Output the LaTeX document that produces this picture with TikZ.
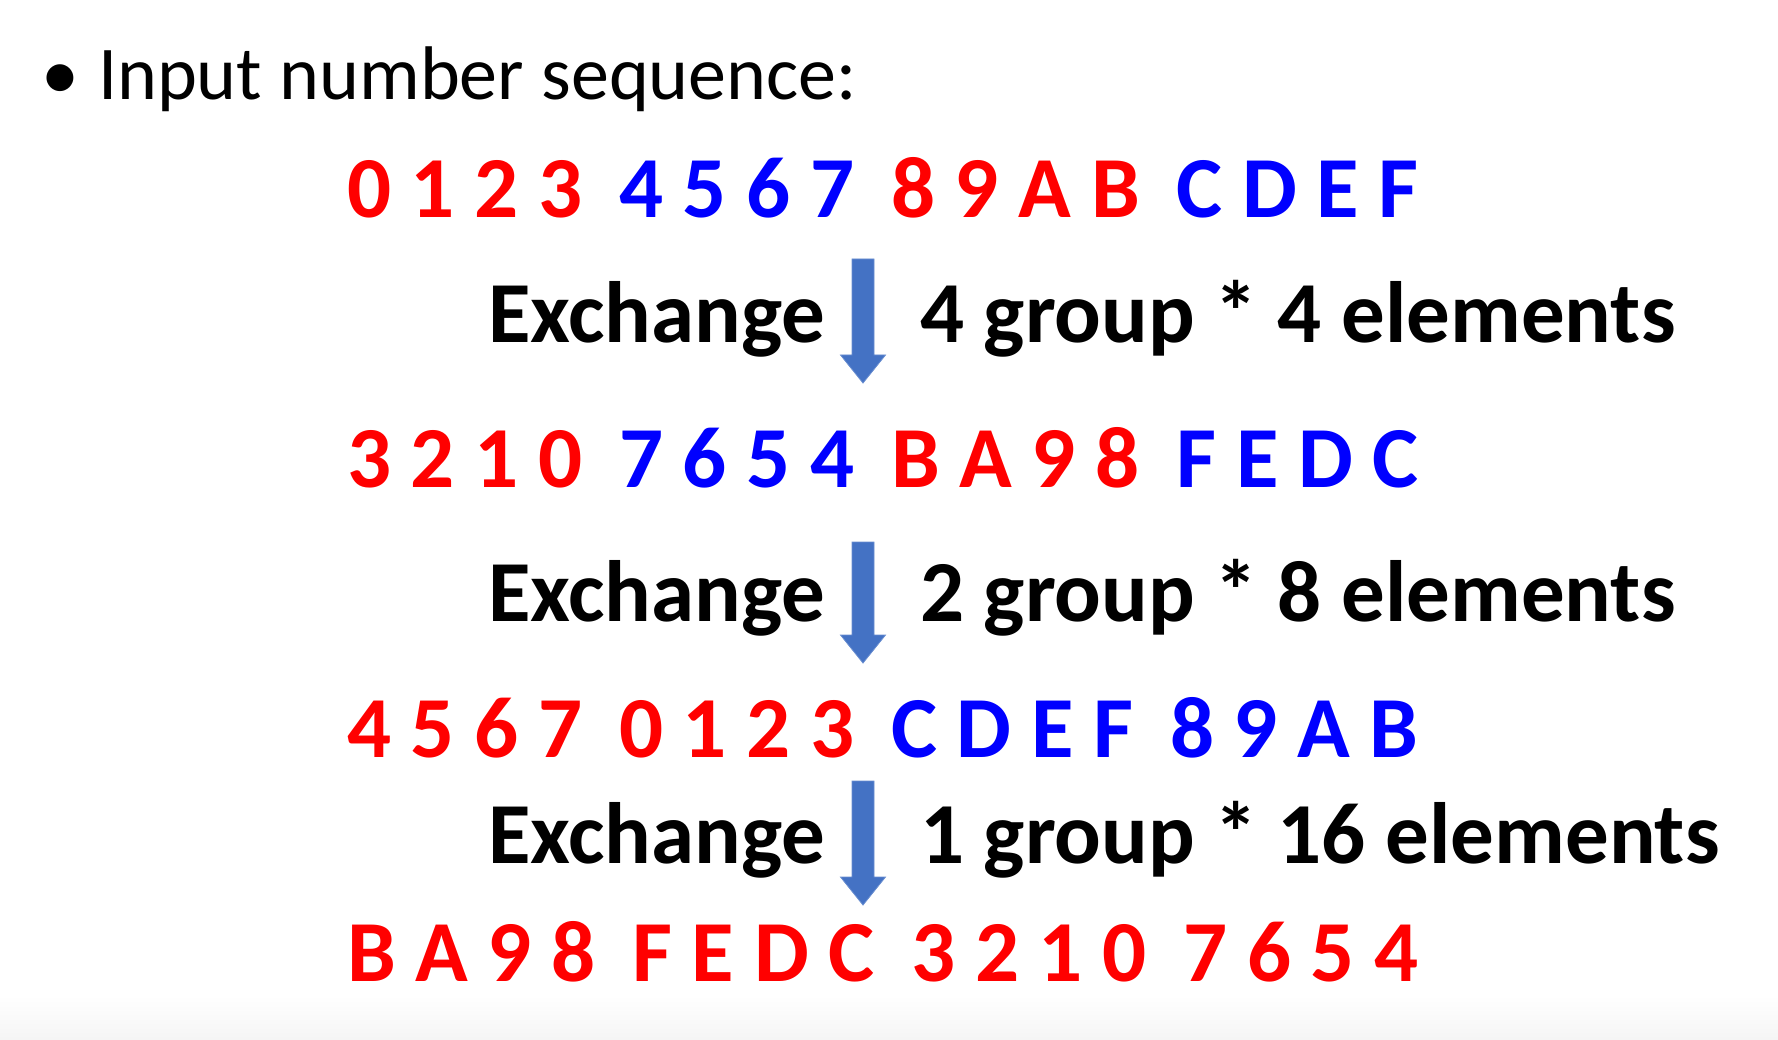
\documentclass[tikz,border=0pt]{standalone}
\usepackage{fontspec}
\setmainfont{Carlito}
\usetikzlibrary{positioning}
\definecolor{arrowblue}{HTML}{4472C4}
\definecolor{seqred}{HTML}{FF0000}
\definecolor{seqblue}{HTML}{0000FF}
\newcommand\gsp{\hspace{17pt}}
\newcommand\R[1]{{\color{seqred}#1}}
\newcommand\B[1]{{\color{seqblue}#1}}
\tikzset{
  txt/.style={anchor=base west, inner sep=0pt, outer sep=0pt, font=\fontsize{76}{90}\selectfont},
  seq/.style={anchor=base west, inner sep=0pt, outer sep=0pt, font=\bfseries\fontsize{87}{100}\selectfont},
  lbl/.style={anchor=base west, inner sep=0pt, outer sep=0pt, font=\bfseries\fontsize{87}{100}\selectfont, text=black},
  blockarrow/.style={fill=arrowblue, draw=arrowblue!80!white, line width=0.8pt}
}
\begin{document}
\begin{tikzpicture}[x=1pt, y=-1pt]
\useasboundingbox (0,0) rectangle (1778,1040);
\fill[white] (0,0) rectangle (1778,1040);
\shade[top color=white, bottom color=black!4] (0,995) rectangle (1778,1040);
% heading
\node[anchor=base, inner sep=0pt, font=\fontsize{76}{90}\selectfont] (bullet) at (60,100) {•};
\node[txt] (title) at (98,100) {Input number sequence:};
% sequences
\node[seq] (row1) at (347,218) {\R{0 1 2 3}\gsp\ \B{4 5 6 7}\gsp\ \R{8 9 A B}\gsp\ \B{C D E F}};
\node[seq] (row2) at (347,487) {\R{3 2 1 0}\gsp\ \B{7 6 5 4}\gsp\ \R{B A 9 8}\gsp\ \B{F E D C}};
\node[seq] (row3) at (347,757) {\R{4 5 6 7}\gsp\ \R{0 1 2 3}\gsp\ \B{C D E F}\gsp\ \B{8 9 A B}};
\node[seq] (row4) at (347,981) {\R{B A 9 8}\gsp\ \R{F E D C}\gsp\ \R{3 2 1 0}\gsp\ \R{7 6 5 4}};
% exchange labels
\node[lbl] (ex1) at (488,343) {Exchange};
\node[lbl] (gr1) at (920,343) {4 group * 4 elements};
\node[lbl] (ex2) at (488,621) {Exchange};
\node[lbl] (gr2) at (920,621) {2 group * 8 elements};
\node[lbl] (ex3) at (488,863) {Exchange};
\node[lbl] (gr3) at (920,863) {1 group * 16 elements};
% arrows
\coordinate (a1) at (863,259);
\coordinate (a2) at (863,542);
\coordinate (a3) at (863,781);
\foreach \c/\h in {a1/96, a2/93, a3/96}{
  \fill[blockarrow] ([xshift=-11pt]\c) -- ([xshift=11pt]\c) -- ([xshift=11pt,yshift=-\h pt]\c) -- ([xshift=22.5pt,yshift=-\h pt]\c) -- ([yshift=-\h pt-28pt]\c) -- ([xshift=-22.5pt,yshift=-\h pt]\c) -- ([xshift=-11pt,yshift=-\h pt]\c) -- cycle;
}
\end{tikzpicture}
\end{document}
